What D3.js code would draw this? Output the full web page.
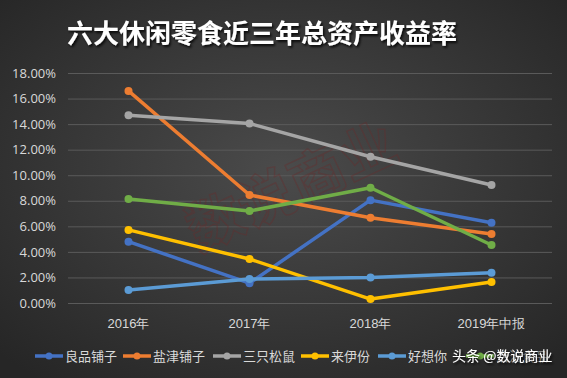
<!DOCTYPE html>
<html>
<head>
<meta charset="utf-8">
<script src="https://cdn.jsdelivr.net/npm/d3@7"></script>
<style>
  html, body { margin: 0; padding: 0; background: #333; }
  svg { display: block; font-family: "Noto Sans CJK SC", "Open Sans", sans-serif; }
</style>
</head>
<body>
<div id="chart"></div>
<script>
const years = ["2016年", "2017年", "2018年", "2019年中报"];
const seriesNames = ["良品铺子", "盐津铺子", "三只松鼠", "来伊份", "好想你", "洽洽食品"];
const seriesColors = ["#4472C4", "#ED7D31", "#A5A5A5", "#FFC000", "#5B9BD5", "#70AD47"];
const liangpin = [4.80, 1.55, 8.05, 6.28];
const yanjin = [16.60, 8.45, 6.67, 5.40];
const sanzhi = [14.70, 14.05, 11.45, 9.23];
const laiyifen = [5.72, 3.44, 0.31, 1.64];
const haoxiangni = [1.02, 1.88, 2.00, 2.37];
const qiaqia = [8.14, 7.20, 9.02, 4.54];
const yTicks = [0, 2, 4, 6, 8, 10, 12, 14, 16, 18];

const allSeries = [liangpin, yanjin, sanzhi, laiyifen, haoxiangni, qiaqia];

const width = 567, height = 378;
const svg = d3.select("#chart").append("svg")
  .attr("width", width).attr("height", height);

const defs = svg.append("defs");
const bg = defs.append("radialGradient").attr("id", "bg")
  .attr("cx", "50%").attr("cy", "45%").attr("r", "70%");
bg.append("stop").attr("offset", "0%").attr("stop-color", "#4b4b4b");
bg.append("stop").attr("offset", "100%").attr("stop-color", "#262626");

const shadow = defs.append("filter").attr("id", "shadow")
  .attr("x", "-10%").attr("y", "-10%").attr("width", "120%").attr("height", "140%");
shadow.append("feDropShadow").attr("dx", 1.5).attr("dy", 2)
  .attr("stdDeviation", 1.2).attr("flood-color", "#000").attr("flood-opacity", 0.8);

svg.append("rect").attr("width", width).attr("height", height).attr("fill", "url(#bg)");

// title
svg.append("text")
  .attr("x", 262).attr("y", 43)
  .attr("text-anchor", "middle")
  .attr("fill", "#fff")
  .attr("font-size", 26)
  .attr("font-weight", "bold")
  .attr("filter", "url(#shadow)")
  .text("六大休闲零食近三年总资产收益率");

// scales
const x = d3.scaleBand().domain(years).range([68, 552]);
const y = d3.scaleLinear().domain([0, 18]).range([303, 73]);

// grid
svg.append("g")
  .selectAll("line")
  .data(yTicks)
  .join("line")
  .attr("x1", 68).attr("x2", 552)
  .attr("y1", d => y(d) + 0.5).attr("y2", d => y(d) + 0.5)
  .attr("stroke", "#5a5a5a")
  .attr("stroke-width", 1);

// y axis
const yAxis = svg.append("g")
  .attr("transform", "translate(56,0)")
  .call(d3.axisLeft(y).tickValues(yTicks).tickSize(0).tickPadding(0)
    .tickFormat(d => d.toFixed(2) + "%"));
yAxis.select(".domain").remove();
yAxis.selectAll("text")
  .attr("fill", "#d9d9d9")
  .attr("font-size", 13)
  .attr("font-family", "'Open Sans', sans-serif");

// x axis
const xAxis = svg.append("g")
  .attr("transform", "translate(0,320)")
  .call(d3.axisBottom(x).tickSize(0).tickPadding(0));
xAxis.select(".domain").remove();
xAxis.selectAll("text")
  .attr("fill", "#d9d9d9")
  .attr("font-size", 13)
  .attr("dy", "0.6em");

// faint watermark inside plot
svg.append("text")
  .attr("transform", "translate(300,205) rotate(-25)")
  .attr("text-anchor", "middle")
  .attr("fill", "none")
  .attr("stroke", "#6a2a2a")
  .attr("stroke-width", 1.5)
  .attr("opacity", 0.35)
  .attr("font-size", 56)
  .attr("font-weight", "bold")
  .text("数说商业");

// lines
const line = d3.line()
  .x((d, i) => x(years[i]) + x.bandwidth() / 2)
  .y(d => y(d));

const lineG = svg.append("g");
allSeries.forEach((vals, k) => {
  const g = lineG.append("g");
  g.append("path")
    .attr("d", line(vals))
    .attr("fill", "none")
    .attr("stroke", seriesColors[k])
    .attr("stroke-width", 3.5)
    .attr("stroke-linejoin", "round");
  g.selectAll("circle")
    .data(vals)
    .join("circle")
    .attr("cx", (d, i) => x(years[i]) + x.bandwidth() / 2)
    .attr("cy", d => y(d))
    .attr("r", 4)
    .attr("fill", seriesColors[k]);
});

// legend
const legendX = [35, 123, 213, 301, 378, 466];
const legend = svg.append("g");
seriesNames.forEach((name, k) => {
  const g = legend.append("g").attr("transform", `translate(${legendX[k]},356)`);
  g.append("line").attr("x1", 0).attr("x2", 28).attr("y1", 0).attr("y2", 0)
    .attr("stroke", seriesColors[k]).attr("stroke-width", 3.5);
  g.append("circle").attr("cx", 14).attr("cy", 0).attr("r", 3.5).attr("fill", seriesColors[k]);
  g.append("text").attr("x", 30).attr("y", 0).attr("dy", "0.36em")
    .attr("fill", k === 5 ? "#8a8a8a" : "#d9d9d9").attr("font-size", 13).text(name);
});

// site watermark (covers the last legend entry, as in the source image)
svg.append("text")
  .attr("x", 452).attr("y", 361)
  .attr("fill", "#fff")
  .attr("font-size", 14)
  .attr("filter", "url(#shadow)")
  .text("头条 @数说商业");
</script>
</body>
</html>
